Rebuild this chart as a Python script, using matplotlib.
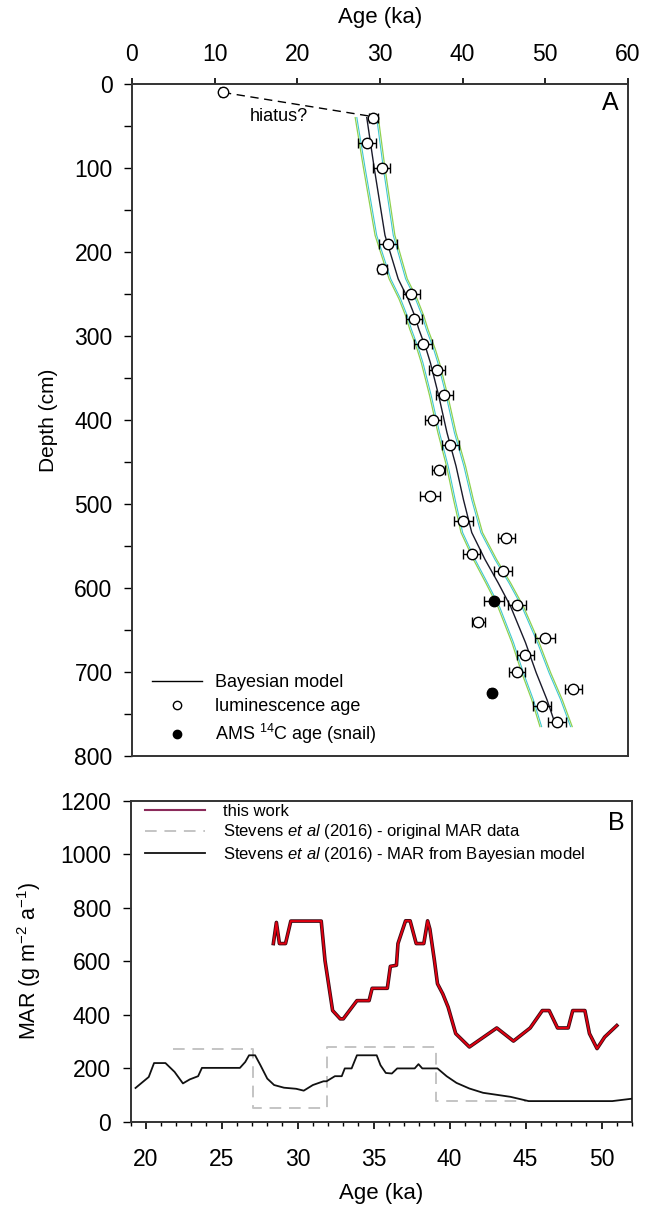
import matplotlib
matplotlib.use("Agg")
import matplotlib.pyplot as plt
from matplotlib.ticker import MultipleLocator
from matplotlib.lines import Line2D

plt.rcParams['font.family'] = ['Liberation Sans', 'DejaVu Sans']
plt.rcParams['mathtext.fontset'] = 'custom'
plt.rcParams['mathtext.rm'] = 'Liberation Sans'
plt.rcParams['mathtext.it'] = 'Liberation Sans:italic'
plt.rcParams['mathtext.bf'] = 'Liberation Sans:bold'

# ---------------- Panel A data ----------------
lum_depth = [10, 40, 70, 100, 190, 220, 250, 280, 310, 340, 370, 400, 430, 460,
             490, 520, 540, 560, 580, 620, 640, 660, 680, 700, 720, 740, 760]
lum_age = [11.0, 29.2, 28.4, 30.2, 31.0, 30.3, 33.8, 34.1, 35.2, 36.9, 37.8, 36.4,
           38.5, 37.1, 36.0, 40.1, 45.3, 41.1, 44.9, 46.6, 41.9, 50.0, 47.6, 46.6,
           53.4, 49.6, 51.4]
lum_err = [0.3, 0.5, 1.1, 1.0, 1.1, 0.6, 1.0, 1.0, 1.1, 1.0, 1.0, 1.0, 1.0, 0.8,
           1.2, 1.1, 1.0, 1.0, 1.1, 1.1, 0.8, 1.2, 1.0, 1.0, 1.0, 1.1, 1.1]

ams_depth = [615, 725]
ams_age = [43.8, 43.5]
ams_err = [1.2, 0.3]

hiatus_age = [11.0, 28.6]
hiatus_depth = [10, 38]

model_depth = [40, 100, 180, 232, 256, 276, 292, 316, 332, 371, 415, 455, 495,
               534, 566, 594, 622, 665, 701, 733, 765]
model_age = [28.4, 29.3, 30.6, 32.2, 33.4, 34.2, 34.7, 35.6, 36.1, 37.1, 38.1,
             39.2, 40.1, 41.1, 42.7, 44.3, 45.8, 47.6, 48.9, 50.2, 51.3]
green_lo = [27.0, 28.0, 29.4, 31.1, 32.3, 33.1, 33.6, 34.5, 35.0, 36.0, 37.0,
            38.05, 38.9, 39.8, 41.3, 42.8, 44.25, 45.95, 47.15, 48.35, 49.35]
green_hi = [29.8, 30.6, 31.8, 33.3, 34.5, 35.3, 35.8, 36.7, 37.2, 38.2, 39.2,
            40.35, 41.3, 42.4, 44.1, 45.8, 47.35, 49.25, 50.65, 52.05, 53.25]
cyan_lo = [27.2, 28.2, 29.6, 31.3, 32.5, 33.3, 33.8, 34.7, 35.2, 36.2, 37.2,
           38.25, 39.1, 40.0, 41.5, 43.0, 44.45, 46.15, 47.35, 48.55, 49.55]
cyan_hi = [29.6, 30.4, 31.6, 33.1, 34.3, 35.1, 35.6, 36.5, 37.0, 38.0, 39.0,
           40.15, 41.1, 42.2, 43.9, 45.6, 47.15, 49.05, 50.45, 51.85, 53.05]

# ---------------- Panel B data ----------------
red_age = [28.4, 28.6, 28.8, 29.2, 29.55, 31.55, 31.8, 32.3, 32.8, 33.0, 33.9, 34.7,
           34.9, 35.9, 36.1, 36.5, 36.6, 37.1, 37.4, 37.8, 38.3, 38.55, 38.7, 39.0,
           39.2, 39.55, 39.9, 40.4, 41.3, 43.1, 44.2, 45.3, 46.1, 46.55, 47.1, 47.8,
           48.1, 48.9, 49.2, 49.7, 50.2, 51.0]
red_mar = [666, 745, 666, 666, 750, 750, 602, 416, 385, 385, 453, 453, 499, 499,
           581, 585, 666, 751, 751, 666, 666, 751, 720, 602, 516, 478, 429, 330,
           280, 351, 302, 351, 416, 416, 351, 351, 416, 416, 330, 274, 317, 360]

blk_age = [19.33, 20.2, 20.55, 21.3, 21.9, 22.45, 22.9, 23.45, 23.7, 26.2, 26.55,
           26.8, 27.2, 27.55, 28.0, 28.45, 29.1, 29.9, 30.4, 31.0, 31.7, 31.9, 32.45,
           32.9, 33.1, 33.55, 33.9, 35.2, 35.45, 35.8, 36.2, 36.55, 37.7, 37.95, 38.2,
           39.2, 39.8, 40.45, 41.3, 42.2, 44.0, 45.2, 50.7, 52.0]
blk_mar = [127, 168, 220, 220, 187, 144, 159, 171, 202, 202, 224, 249, 249, 212,
           162, 138, 128, 124, 117, 138, 152, 152, 171, 171, 200, 200, 249, 249, 212,
           183, 181, 200, 200, 216, 200, 200, 171, 146, 125, 109, 94, 78, 78, 87]

gray_age = [21.8, 27.07, 27.07, 31.9, 31.9, 39.07, 39.07, 45.0]
gray_mar = [271, 271, 51, 51, 280, 280, 78, 78]

W, H = 645, 1205
fig = plt.figure(figsize=(W / 100, H / 100), dpi=100)
TICK_FS = 16.5

# ---------------- Panel A ----------------
axA = fig.add_axes([132 / W, 1 - 756 / H, (628 - 132) / W, (756 - 84) / H])
axA.plot(green_lo, model_depth, color='#8fd14f', lw=0.9, zorder=2)
axA.plot(green_hi, model_depth, color='#8fd14f', lw=0.9, zorder=2)
axA.plot(cyan_lo, model_depth, color='#40c8d0', lw=0.8, zorder=2)
axA.plot(cyan_hi, model_depth, color='#40c8d0', lw=0.8, zorder=2)
axA.plot(model_age, model_depth, color='#1a1a2a', lw=1.0, zorder=3)
axA.plot(hiatus_age, hiatus_depth, color='black', lw=1.0, ls=(0, (6, 4)), zorder=3)
axA.errorbar(lum_age, lum_depth, xerr=lum_err, fmt='o', mfc='white', mec='black',
             ms=7.5, mew=1.0, ecolor='black', elinewidth=1.0, capsize=3.5,
             capthick=1.0, zorder=4)
axA.errorbar(ams_age, ams_depth, xerr=ams_err, fmt='o', mfc='black', mec='black',
             ms=7.5, ecolor='black', elinewidth=1.0, capsize=3.5, capthick=1.0,
             zorder=5)

axA.set_xlim(0, 60)
axA.set_ylim(800, 0)
axA.xaxis.set_ticks_position('top')
axA.xaxis.set_label_position('top')
axA.set_xticks(range(0, 61, 10))
axA.set_yticks(range(0, 801, 100))
axA.yaxis.set_minor_locator(MultipleLocator(50))
axA.tick_params(axis='x', which='major', direction='out', length=4, width=1.2,
                labelsize=TICK_FS, pad=9)
axA.tick_params(axis='y', which='both', direction='out', length=6, width=1.0,
                labelsize=TICK_FS, pad=8)
axA.tick_params(right=False)
axA.set_xlabel('Age (ka)', fontsize=16, labelpad=14)
axA.set_ylabel('Depth (cm)', fontsize=15, labelpad=12)
for s in axA.spines.values():
    s.set_linewidth(1.4)
    s.set_color('#333333')
axA.text(57.8, 23, 'A', fontsize=18, ha='center', va='center')
axA.text(14.2, 39, 'hiatus?', fontsize=13, ha='left', va='center')

hA = [Line2D([], [], color='black', lw=1.0),
      Line2D([], [], ls='none', marker='o', mfc='white', mec='black', ms=6),
      Line2D([], [], ls='none', marker='o', mfc='black', mec='black', ms=6)]
axA.legend(hA, ['Bayesian model', 'luminescence age', r'AMS $^{14}$C age (snail)'],
           loc='lower left', bbox_to_anchor=(0.04, 0.015), borderaxespad=0,
           borderpad=0, frameon=False, fontsize=13, handlelength=2.8,
           handletextpad=0.7, labelspacing=0.38)

# ---------------- Panel B ----------------
axB = fig.add_axes([130.5 / W, 1 - 1122 / H, (632 - 130.5) / W, (1122 - 800.5) / H])
axB.plot(gray_age, gray_mar, color='#c4c4c4', lw=1.4, ls=(0, (6, 4)), zorder=2)
axB.plot(blk_age, blk_mar, color='#111111', lw=1.3, zorder=3)
axB.plot(red_age, red_mar, color='#3a0a14', lw=2.6, zorder=4)
axB.plot(red_age, red_mar, color='#e00010', lw=1.4, zorder=5)

axB.set_xlim(19, 52)
axB.set_ylim(0, 1200)
axB.set_xticks(range(20, 51, 5))
axB.xaxis.set_minor_locator(MultipleLocator(1))
axB.set_yticks(range(0, 1201, 200))
axB.tick_params(axis='x', which='major', direction='out', length=5, width=1.2,
                labelsize=TICK_FS, pad=14)
axB.tick_params(axis='x', which='minor', direction='out', length=3, width=1.0)
axB.tick_params(axis='y', which='major', direction='out', length=6, width=1.0,
                labelsize=TICK_FS, pad=8)
axB.tick_params(right=False, top=False)
axB.set_xlabel('Age (ka)', fontsize=16, labelpad=8)
axB.set_ylabel(r'MAR (g m$^{-2}$ a$^{-1}$)', fontsize=15.5, labelpad=12)
for s in axB.spines.values():
    s.set_linewidth(1.4)
    s.set_color('#333333')
axB.text(51.0, 1115, 'B', fontsize=18, ha='center', va='center')

hB = [Line2D([], [], color='#8b2a5a', lw=1.5),
      Line2D([], [], color='#c4c4c4', lw=1.4, ls=(0, (6, 4))),
      Line2D([], [], color='#111111', lw=1.3)]
axB.legend(hB, ['this work',
                r'Stevens $\mathit{et\ al}$ (2016) - original MAR data',
                r'Stevens $\mathit{et\ al}$ (2016) - MAR from Bayesian model'],
           loc='upper left', bbox_to_anchor=(0.029, 0.99), borderaxespad=0,
           borderpad=0, frameon=False, fontsize=12, handlelength=3.6,
           handletextpad=1.1, labelspacing=0.22)

fig.savefig('out.png', dpi=100)
